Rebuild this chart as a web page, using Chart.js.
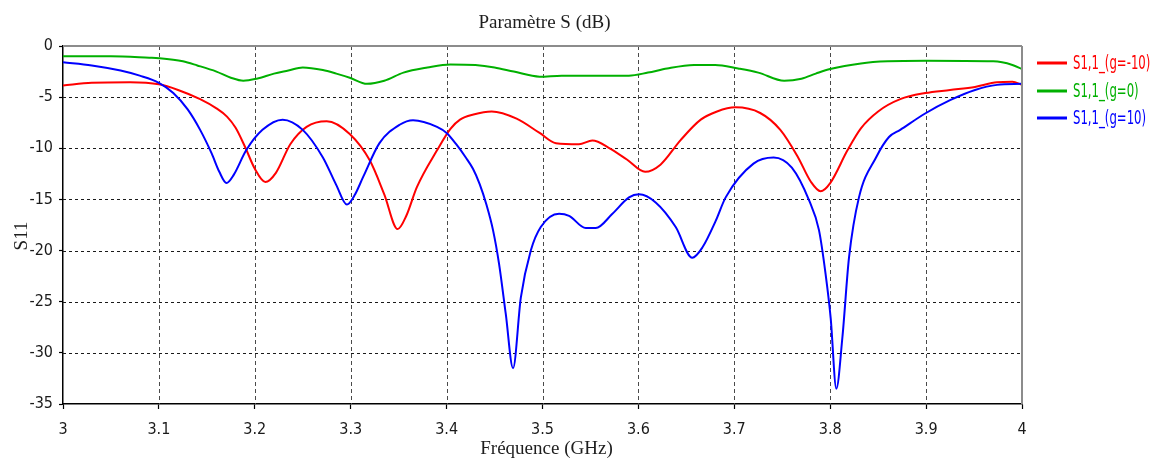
<!DOCTYPE html>
<html>
<head>
<meta charset="utf-8">
<title>Paramètre S (dB)</title>
<script src="https://cdn.jsdelivr.net/npm/chart.js@4.4.1/dist/chart.umd.min.js"></script>
<style>
  html, body { margin: 0; padding: 0; background: #ffffff; }
  #wrap { width: 1156px; height: 466px; position: relative; }
</style>
</head>
<body>
<div id="wrap"><canvas id="c"></canvas></div>
<script>
// ---- data ---------------------------------------------------------------
const seriesLabels = ['S1,1_(g=-10)', 'S1,1_(g=0)', 'S1,1_(g=10)'];
const seriesColors = ['#ff0000', '#00b000', '#0000ff'];

const freqTicks = [3, 3.1, 3.2, 3.3, 3.4, 3.5, 3.6, 3.7, 3.8, 3.9, 4];
const dbTicks = [0, -5, -10, -15, -20, -25, -30, -35];

// g = -10
const freqGm10 = [3.00, 3.03, 3.07, 3.10, 3.12, 3.143, 3.16, 3.171, 3.18, 3.19, 3.20, 3.211, 3.222, 3.237,
  3.254, 3.275, 3.299, 3.32, 3.335, 3.349, 3.358, 3.369, 3.39, 3.404, 3.414, 3.428, 3.447, 3.473, 3.497,
  3.514, 3.538, 3.552, 3.57, 3.588, 3.607, 3.623, 3.644, 3.665, 3.682, 3.701, 3.727, 3.748, 3.766, 3.78,
  3.79, 3.80, 3.818, 3.832, 3.85, 3.873, 3.899, 3.925, 3.951, 3.974, 3.99, 4.00];
const s11Gm10 = [-3.85, -3.6, -3.55, -3.75, -4.3, -5.2, -6.1, -6.9, -8.0, -9.9, -12.0, -13.3, -12.4, -9.6,
  -7.9, -7.35, -8.6, -11.2, -14.5, -17.9, -16.6, -13.8, -10.2, -8.1, -7.2, -6.7, -6.4, -7.1, -8.5,
  -9.5, -9.6, -9.25, -10.0, -11.1, -12.3, -11.6, -9.2, -7.2, -6.4, -6.0, -6.55, -8.2, -10.8, -13.3,
  -14.2, -13.4, -10.2, -8.05, -6.4, -5.2, -4.6, -4.3, -4.0, -3.55, -3.5, -3.8];

// g = 0
const freqG0 = [3.00, 3.05, 3.09, 3.10, 3.125, 3.14, 3.16, 3.175, 3.188, 3.202, 3.22, 3.235, 3.25, 3.271,
  3.285, 3.299, 3.317, 3.335, 3.355, 3.38, 3.404, 3.43, 3.45, 3.47, 3.497, 3.52, 3.56, 3.59, 3.61, 3.63,
  3.658, 3.68, 3.704, 3.725, 3.752, 3.77, 3.785, 3.80, 3.832, 3.86, 3.90, 3.97, 3.99, 4.00];
const s11G0 = [-1.0, -1.0, -1.15, -1.2, -1.5, -1.9, -2.5, -3.1, -3.4, -3.2, -2.7, -2.4, -2.1, -2.35,
  -2.7, -3.1, -3.7, -3.4, -2.6, -2.1, -1.8, -1.86, -2.1, -2.5, -3.0, -2.9, -2.9, -2.9, -2.6, -2.2,
  -1.86, -1.85, -2.2, -2.6, -3.4, -3.2, -2.7, -2.25, -1.7, -1.5, -1.45, -1.5, -1.85, -2.25];

// g = 10
const freqG10 = [3.00, 3.03, 3.06, 3.08, 3.10, 3.115, 3.13, 3.143, 3.155, 3.163, 3.1705, 3.178, 3.191,
  3.208, 3.229, 3.25, 3.271, 3.285, 3.296, 3.304, 3.313, 3.33, 3.351, 3.365, 3.39, 3.40, 3.41, 3.42,
  3.4275, 3.4345, 3.4415, 3.4484, 3.4547, 3.4617, 3.4693, 3.4774, 3.4878, 3.4982, 3.5173, 3.5277,
  3.5451, 3.5555, 3.5729, 3.5902, 3.6007, 3.618, 3.6389, 3.6562, 3.6667, 3.6806, 3.691, 3.72, 3.741,
  3.76, 3.778, 3.7883, 3.7952, 3.8005, 3.8064, 3.8127, 3.8196, 3.83, 3.8478, 3.8613, 3.873, 3.899,
  3.925, 3.951, 3.974, 4.00];
const s11G10 = [-1.6, -1.9, -2.4, -2.9, -3.6, -4.6, -6.2, -8.2, -10.5, -12.3, -13.4, -12.6, -10.2,
  -8.2, -7.2, -8.2, -10.9, -13.6, -15.5, -14.6, -12.8, -9.5, -7.7, -7.25, -7.9, -8.5, -9.6, -10.9,
  -12.0, -13.5, -15.5, -18.0, -21.3, -26.2, -31.5, -24.6, -20.0, -17.7, -16.4, -16.6,
  -17.8, -17.8, -16.4, -14.8, -14.5, -15.3, -17.7, -20.7, -19.7, -17.1, -14.8, -11.5, -10.9,
  -11.9, -15.1, -18.0, -22.3, -26.6, -33.5, -28.5, -20.7, -14.8, -10.9, -8.9, -8.2, -6.6,
  -5.3, -4.3, -3.8, -3.7];

const seriesFreqs = [freqGm10, freqG0, freqG10];
const seriesValues = [s11Gm10, s11G0, s11G10];

// ---- fonts --------------------------------------------------------------
const NARROW = '"Liberation Sans Narrow", "DejaVu Sans Condensed", "Arial Narrow", sans-serif';
const SERIF = '"Liberation Serif", "DejaVu Serif", serif';

// ---- helpers ------------------------------------------------------------
function strokeLine(ctx, x1, y1, x2, y2) {
  ctx.beginPath();
  ctx.moveTo(x1, y1);
  ctx.lineTo(x2, y2);
  ctx.stroke();
}

// dashed grid inside the plot area, at the scale's own tick positions
const gridPlugin = {
  id: 'dashedGrid',
  beforeDatasetsDraw(chart) {
    const { ctx, chartArea: a, scales: { x, y } } = chart;
    ctx.save();
    ctx.lineWidth = 1;
    ctx.strokeStyle = '#4a4a4a';
    ctx.setLineDash([4, 3]);
    x.ticks.forEach(t => {
      if (t.value <= x.min || t.value >= x.max) return;
      const px = Math.round(x.getPixelForValue(t.value)) + 0.5;
      strokeLine(ctx, px, a.top, px, a.bottom);
    });
    ctx.strokeStyle = '#1a1a1a';
    ctx.setLineDash([3, 3]);
    y.ticks.forEach(t => {
      if (t.value <= y.min || t.value >= y.max) return;
      const py = Math.round(y.getPixelForValue(t.value)) + 0.5;
      strokeLine(ctx, a.left, py, a.right, py);
    });
    ctx.restore();
  },
  afterDatasetsDraw(chart) {
    const { ctx, chartArea: a } = chart;
    ctx.save();
    // light frame on top and right
    ctx.strokeStyle = '#8c8c8c';
    ctx.lineWidth = 2;
    strokeLine(ctx, a.left, a.top, a.right, a.top);
    strokeLine(ctx, a.right, a.top, a.right, a.bottom);
    ctx.restore();
  }
};

// titles and legend
const textPlugin = {
  id: 'texts',
  afterDraw(chart) {
    const { ctx, chartArea: a } = chart;
    const cx = (a.left + a.right) / 2;
    ctx.save();
    ctx.fillStyle = '#1e1e1e';
    ctx.font = '19px ' + SERIF;
    ctx.textAlign = 'center';
    ctx.textBaseline = 'alphabetic';
    ctx.fillText('Paramètre S (dB)', cx + 2, 27.5);
    ctx.fillText('Fréquence (GHz)', cx + 4, 454);
    ctx.save();
    ctx.translate(27, 236);
    ctx.rotate(-Math.PI / 2);
    ctx.fillText('S11', 0, 0);
    ctx.restore();

    // legend: short line + condensed label for each series
    const lx0 = 1037, lx1 = 1067, tx = 1073;
    const rows = [63, 91, 118];
    chart.data.datasets.forEach((ds, i) => {
      const yy = rows[i];
      ctx.strokeStyle = ds.borderColor;
      ctx.lineWidth = 3;
      strokeLine(ctx, lx0, yy, lx1, yy);
      ctx.save();
      ctx.translate(tx, yy + 1);
      ctx.scale(0.65, 1);
      ctx.fillStyle = ds.borderColor;
      ctx.font = '20px ' + NARROW;
      ctx.textAlign = 'left';
      ctx.textBaseline = 'middle';
      ctx.fillText(ds.label, 0, 0);
      ctx.restore();
    });
    ctx.restore();
  }
};

const datasets = seriesLabels.map((label, i) => ({
  label,
  data: seriesFreqs[i].map((f, k) => ({ x: f, y: seriesValues[i][k] })),
  borderColor: seriesColors[i],
  backgroundColor: seriesColors[i],
  borderWidth: 2,
  pointRadius: 0,
  fill: false,
  cubicInterpolationMode: 'monotone',
  tension: 0.4,
  order: 2 - i
}));

new Chart(document.getElementById('c'), {
  type: 'line',
  data: { datasets },
  options: {
    responsive: true,
    maintainAspectRatio: false,
    animation: false,
    devicePixelRatio: 1,
    layout: { padding: { top: 46, right: 134, left: 0, bottom: 0 } },
    plugins: {
      legend: { display: false },
      title: { display: false },
      tooltip: { enabled: false }
    },
    scales: {
      x: {
        type: 'linear',
        min: 3,
        max: 4,
        afterBuildTicks: s => { s.ticks = freqTicks.map(v => ({ value: v })); },
        afterFit: s => { s.height = 62; },
        grid: { drawOnChartArea: false, drawTicks: true, tickLength: 5, tickColor: '#000', tickWidth: 1.2 },
        border: { display: true, color: '#000', width: 1.5 },
        ticks: {
          padding: 11,
          color: '#1a1a1a',
          font: { family: NARROW, size: 16 },
          maxRotation: 0,
          autoSkip: false,
          callback: v => String(v)
        }
      },
      y: {
        type: 'linear',
        min: -35,
        max: 0,
        afterBuildTicks: s => { s.ticks = dbTicks.map(v => ({ value: v })); },
        afterFit: s => { s.width = 63; },
        grid: { drawOnChartArea: false, drawTicks: true, tickLength: 4, tickColor: '#000', tickWidth: 1.2 },
        border: { display: true, color: '#000', width: 1.5 },
        ticks: {
          padding: 6,
          color: '#1a1a1a',
          font: { family: NARROW, size: 16 },
          autoSkip: false,
          callback: v => String(v)
        }
      }
    }
  },
  plugins: [gridPlugin, textPlugin]
});
</script>
</body>
</html>
